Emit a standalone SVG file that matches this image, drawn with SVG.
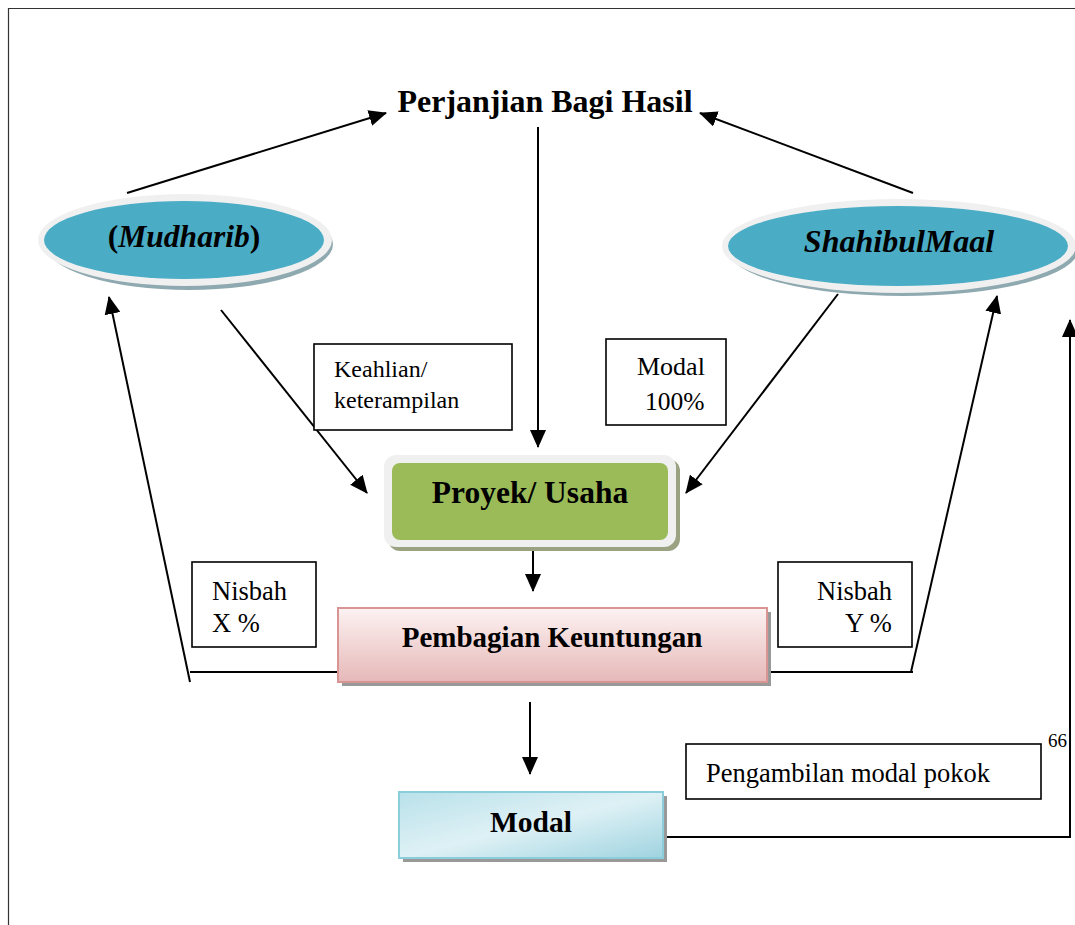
<svg xmlns="http://www.w3.org/2000/svg" width="1075" height="925" viewBox="0 0 1075 925">
<defs>
<style>
.t{font-family:"Liberation Serif","Times New Roman",serif;fill:#000}
.b{font-weight:bold}
.i{font-style:italic}
.ln{stroke:#000;stroke-width:2;fill:none}
.lb{fill:#fff;stroke:#000;stroke-width:1.6}
</style>
<marker id="ahs" markerWidth="18" markerHeight="16" refX="17" refY="8" orient="auto" markerUnits="userSpaceOnUse">
<path d="M0,0 L18,8 L0,16 z" fill="#000"/>
</marker>
<linearGradient id="pink" x1="0" y1="0" x2="0" y2="1">
<stop offset="0" stop-color="#fdf2f2"/>
<stop offset="1" stop-color="#e6b8b8"/>
</linearGradient>
<linearGradient id="blue" x1="0" y1="0" x2="1" y2="1">
<stop offset="0" stop-color="#b9e1ea"/>
<stop offset="0.5" stop-color="#def1f5"/>
<stop offset="1" stop-color="#9fd3e0"/>
</linearGradient>
</defs>
<rect width="1075" height="925" fill="#fff"/>
<g id="page">
<path d="M1075,8.5 H8.5 V925" stroke="#333" stroke-width="1.2" fill="none"/>
</g>

<g id="connectors">
<line class="ln" x1="127" y1="193" x2="386" y2="113" marker-end="url(#ahs)"/>
<line class="ln" x1="913" y1="193" x2="700" y2="113" marker-end="url(#ahs)"/>
<line class="ln" x1="538" y1="127" x2="538" y2="447" marker-end="url(#ahs)"/>
<line class="ln" x1="221" y1="310" x2="367" y2="493" marker-end="url(#ahs)"/>
<line class="ln" x1="838" y1="294" x2="686" y2="493" marker-end="url(#ahs)"/>
<line class="ln" x1="533" y1="543" x2="533" y2="591" marker-end="url(#ahs)"/>
<line class="ln" x1="530" y1="702" x2="530" y2="774" marker-end="url(#ahs)"/>
<line class="ln" x1="190" y1="672" x2="338" y2="672"/>
<line class="ln" x1="190" y1="682" x2="109" y2="297" marker-end="url(#ahs)"/>
<line class="ln" x1="767" y1="672" x2="913" y2="672"/>
<line class="ln" x1="911" y1="672" x2="997" y2="296" marker-end="url(#ahs)"/>
<polyline class="ln" points="663,837 1070,837 1070,320" marker-end="url(#ahs)"/>
</g>

<g id="title">
<text class="t b" x="545" y="112" font-size="32" text-anchor="middle">Perjanjian Bagi Hasil</text>
</g>

<g id="mudharib">
<ellipse cx="189" cy="244" rx="144" ry="46" fill="#8fa9b0"/>
<ellipse cx="185" cy="240" rx="147" ry="46" fill="#f0f0f0"/>
<ellipse cx="184" cy="240" rx="140" ry="39" fill="#4aacc5"/>
<text class="t b" x="184" y="247" font-size="31.5" text-anchor="middle">(<tspan class="i">Mudharib</tspan>)</text>
</g>

<g id="shahibul">
<ellipse cx="903" cy="250" rx="175" ry="46" fill="#8fa9b0"/>
<ellipse cx="899" cy="246" rx="177" ry="47" fill="#f0f0f0"/>
<ellipse cx="898" cy="246" rx="170" ry="40" fill="#4aacc5"/>
<text class="t b i" x="899" y="252" font-size="32" text-anchor="middle">ShahibulMaal</text>
</g>

<g id="keahlian">
<rect class="lb" x="314" y="344" width="198" height="86"/>
<text class="t" x="334" y="377" font-size="24">Keahlian/</text>
<text class="t" x="334" y="408" font-size="24">keterampilan</text>
</g>

<g id="modal100">
<rect class="lb" x="606" y="339" width="120" height="86"/>
<text class="t" x="637" y="375" font-size="26">Modal</text>
<text class="t" x="645" y="410" font-size="25.5">100%</text>
</g>

<g id="proyek">
<rect x="388" y="459" width="292" height="92" rx="12" fill="#9aa282"/>
<rect x="384" y="455" width="292" height="92" rx="12" fill="#f0f0f0"/>
<rect x="392" y="463" width="276" height="77" rx="8" fill="#9bbb59"/>
<text class="t b" x="530" y="503" font-size="31.5" text-anchor="middle">Proyek/ Usaha</text>
</g>

<g id="pembagian">
<rect x="342" y="612" width="429" height="74" fill="#999"/>
<rect x="338" y="608" width="429" height="74" fill="url(#pink)" stroke="#d99594" stroke-width="2"/>
<text class="t b" x="552" y="647" font-size="29" text-anchor="middle">Pembagian Keuntungan</text>
</g>

<g id="nisbahx">
<rect class="lb" x="192" y="562" width="124" height="85"/>
<text class="t" x="212" y="600" font-size="26.5">Nisbah</text>
<text class="t" x="212" y="632" font-size="26.5">X %</text>
</g>

<g id="nisbahy">
<rect class="lb" x="778" y="562" width="134" height="85"/>
<text class="t" x="817" y="600" font-size="26.5">Nisbah</text>
<text class="t" x="845" y="632" font-size="26.5">Y %</text>
</g>

<g id="modal">
<rect x="403" y="796" width="264" height="66" fill="#999"/>
<rect x="399" y="792" width="264" height="66" fill="url(#blue)" stroke="#8ccddc" stroke-width="2"/>
<text class="t b" x="531" y="832" font-size="29.5" text-anchor="middle">Modal</text>
</g>

<g id="pengambilan">
<rect class="lb" x="686" y="744" width="355" height="55"/>
<text class="t" x="706" y="782" font-size="26.5">Pengambilan modal pokok</text>
</g>

<g id="pagenum">
<text class="t" x="1048" y="747" font-size="19">66</text>
</g>
</svg>
